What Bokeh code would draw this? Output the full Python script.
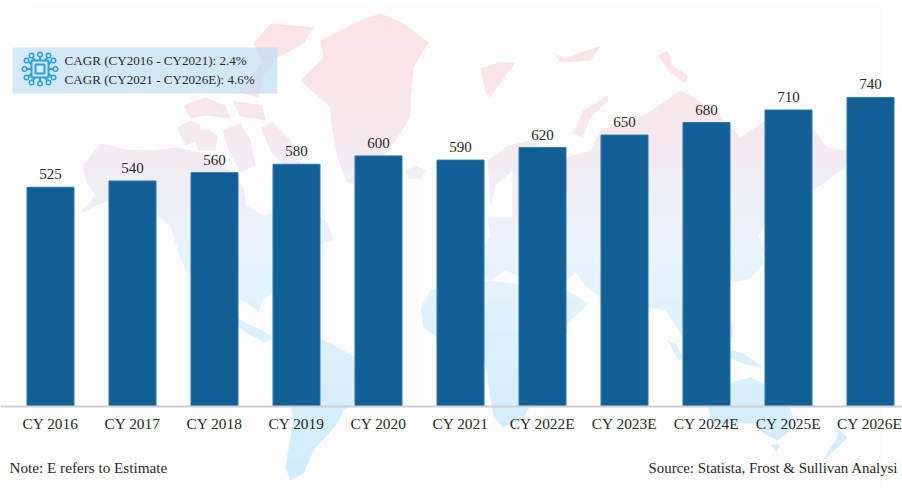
from bokeh.embed import file_html
from bokeh.resources import INLINE
from bokeh.plotting import figure
from bokeh.models import Range1d, LinearAxis, FixedTicker, ColumnDataSource, Label
from bokeh.core.properties import value

# ---- chart data ----
categories = ["CY 2016", "CY 2017", "CY 2018", "CY 2019", "CY 2020", "CY 2021",
              "CY 2022E", "CY 2023E", "CY 2024E", "CY 2025E", "CY 2026E"]
values = [525, 540, 560, 580, 600, 590, 620, 650, 680, 710, 740]
cagr_lines = ["CAGR (CY2016 - CY2021):  2.4%", "CAGR (CY2021 - CY2026E):  4.6%"]
note_text = "Note: E refers to Estimate"
source_text = "Source:  Statista, Frost & Sullivan Analysi"

SERIF = value("Liberation Serif")
W, H = 902, 488
STEP, FIRST = 82.0, 50.0    # px between bars, px centre of the first bar
BASE_Y, PX_PER_UNIT = 406.0, 0.4176

# ---- faint world map backdrop, in page pixels ----
MAP = [
    # North America
    [(82,165),(100,143),(125,149),(150,150),(175,147),(200,152),(215,160),(235,175),(243,187),(246,205),(262,215),
     (275,212),(280,195),(295,200),(310,210),(327,222),(333,240),(315,245),(295,262),(280,285),(270,295),(262,300),
     (258,312),(250,305),(238,298),(238,318),(250,325),(262,330),(272,337),(265,342),(245,332),(225,315),(205,295),
     (193,285),(180,258),(170,225),(150,210),(125,195),(100,203),(78,214),(95,195),(86,182)],
    # Arctic Canada
    [(177,127),(190,120),(200,125),(198,140),(185,145)],
    [(192,133),(205,128),(217,135),(215,150),(198,150)],
    [(222,130),(240,123),(250,140),(255,165),(240,172),(228,150)],
    [(260,127),(272,122),(290,140),(300,163),(283,165),(270,150)],
    [(183,105),(205,97),(225,105),(230,118),(205,115),(190,118)],
    [(232,100),(262,105),(265,120),(240,116)],
    [(253,43),(270,23),(313,27),(303,43),(277,57),(263,75),(258,97),(238,92),(262,62)],
    # Greenland
    [(320,40),(360,20),(380,13),(403,23),(428,42),(413,67),(410,100),(410,117),(393,143),(360,183),(347,183),
     (337,157),(330,117),(330,107),(300,80),(323,57)],
    # Iceland, Svalbard, Franz Josef, Novaya Zemlya, Severnaya Zemlya
    [(405,170),(415,165),(425,170),(420,178),(408,178)],
    [(480,68),(498,62),(515,62),(505,75),(490,97),(485,92)],
    [(553,52),(565,58),(585,50),(600,46),(590,60),(560,62)],
    [(572,133),(583,110),(607,95),(608,100),(590,117),(582,137)],
    [(657,55),(667,50),(672,65),(687,75),(685,83),(670,72)],
    # Eurasia
    [(487,160),(507,145),(530,140),(565,157),(590,150),(600,130),(647,113),(680,90),(693,97),(717,113),(740,137),
     (765,120),(810,125),(827,147),(847,150),(890,160),(890,175),(847,165),(820,185),(800,195),(785,215),(765,225),
     (758,235),(765,250),(735,275),(725,290),(700,300),(690,335),(683,337),(665,310),(647,307),(630,345),(615,340),
     (600,297),(585,285),(575,272),(560,285),(540,270),(525,278),(505,270),(490,280),(470,275),(478,255),(490,235),
     (487,217),(512,217),(512,170),(495,185),(490,205)],
    # Japan
    [(742,262),(760,250),(764,262),(750,278),(734,282),(730,278)],
    # Africa
    [(420,307),(430,290),(453,280),(483,280),(517,283),(545,295),(567,290),(588,303),(567,323),(567,333),(550,360),
     (533,400),(523,417),(503,427),(493,417),(487,377),(483,357),(477,347),(440,340),(423,327)],
    [(553,378),(560,374),(557,395),(551,394)],
    # South America
    [(320,338),(343,350),(355,357),(380,372),(375,393),(355,403),(343,410),(337,423),(313,450),(303,473),(290,480),
     (285,467),(293,417),(283,377),(293,350),(307,340)],
    # Australia, Tasmania, New Zealand, New Guinea, Indonesia, Philippines
    [(707,407),(730,382),(750,377),(763,383),(783,393),(793,417),(790,430),(777,440),(763,433),(757,423),(727,423),
     (713,423)],
    [(770,444),(780,444),(776,452)],
    [(837,428),(847,437),(837,447),(823,460),(827,452),(837,437)],
    [(720,347),(743,353),(763,367),(745,364),(725,356)],
    [(667,340),(675,343),(683,358),(678,360)],
    [(690,343),(705,340),(712,350),(698,358)],
    [(728,322),(733,325),(733,337),(728,335)],
]
STOPS = [(10,(252,226,229)), (110,(247,231,235)), (180,(240,237,244)), (260,(232,243,251)), (350,(218,240,252)), (480,(208,236,252))]


def band_colour(y):
    for (y0, c0), (y1, c1) in zip(STOPS, STOPS[1:]):
        if y <= y1:
            t = max(0.0, (y - y0) / (y1 - y0))
            return "#%02x%02x%02x" % tuple(round(a + (b - a) * t) for a, b in zip(c0, c1))
    return "#%02x%02x%02x" % STOPS[-1][1]


def clip(poly, y, keep_below):
    out = []
    inside = (lambda p: p[1] >= y) if keep_below else (lambda p: p[1] <= y)
    for i, a in enumerate(poly):
        b = poly[(i + 1) % len(poly)]
        if inside(a):
            out.append(a)
        if inside(a) != inside(b):
            t = (y - a[1]) / (b[1] - a[1])
            out.append((a[0] + t * (b[0] - a[0]), y))
    return out


xs, ys, cols = [], [], []
for shape in MAP:
    y0 = min(q[1] for q in shape)
    y1 = max(q[1] for q in shape)
    y = int(y0 // 10) * 10
    while y < y1:
        part = clip(clip(shape, y, True), y + 11, False)
        if len(part) >= 3:
            xs.append([q[0] for q in part])
            ys.append([q[1] for q in part])
            cols.append(band_colour(y + 5))
        y += 10

p = figure(
    width=W, height=H, output_backend="svg", toolbar_location=None, min_border=0,
    x_axis_type=None, y_axis_type=None, outline_line_color=None,
    background_fill_color="white", border_fill_color="white",
    x_range=Range1d(-FIRST / STEP, (W - FIRST) / STEP),
    y_range=Range1d((BASE_Y - H) / PX_PER_UNIT, BASE_Y / PX_PER_UNIT),
)
p.grid.visible = False
p.extra_x_ranges["px"] = Range1d(0, W)
p.extra_y_ranges["px"] = Range1d(H, 0)
PX = dict(x_range_name="px", y_range_name="px")

# page tint behind the map
p.quad(left=[32], right=[882], top=[5], bottom=[488], fill_color="#fcfcfc", line_color=None, **PX)
p.patches(xs, ys, fill_color=cols, line_color=None, **PX)

# CAGR box
p.quad(left=[12], right=[277], top=[47], bottom=[93], fill_color="#b8dbf3", fill_alpha=0.6, line_color=None, **PX)

# chip icon
ICON = "#2b9fdc"
p.quad(left=[31], right=[48], top=[60], bottom=[77], fill_color=None, line_color=ICON, line_width=2, **PX)
p.quad(left=[35], right=[44], top=[64], bottom=[73], fill_color="#d8ecf9", line_color=ICON, line_width=2, **PX)
tx0 = [34.5, 39.5, 44.5, 34.5, 39.5, 44.5, 31, 31, 31, 48, 48, 48]
ty0 = [60, 60, 60, 77, 77, 77, 63.5, 68.5, 73.5, 63.5, 68.5, 73.5]
tx1 = [31, 39.5, 48, 31, 39.5, 48, 26, 24, 26, 53, 55, 53]
ty1 = [55, 54, 55, 82, 83, 82, 60, 68.5, 77, 60, 68.5, 77]
p.segment(tx0, ty0, tx1, ty1, line_color=ICON, line_width=2, **PX)
p.scatter(tx1, ty1, size=4.5, marker="circle", fill_color="#d8ecf9", line_color=ICON, line_width=1.5, **PX)

# bars
src = ColumnDataSource(dict(x=list(range(len(values))), top=values, label=[str(v) for v in values]))
p.vbar(x="x", top="top", bottom=0, width=47 / STEP, source=src,
       fill_color="#115f95", line_color="#2a78aa", line_width=1)
p.text(x="x", y="top", text="label", source=src, text_font=SERIF, text_font_size="15px",
       text_color="#2a2a2a", text_align="center", text_baseline="bottom", y_offset=-8)

# axis
axis = LinearAxis(fixed_location=0, ticker=FixedTicker(ticks=list(range(len(categories)))),
                  major_label_overrides={i: c for i, c in enumerate(categories)})
axis.axis_line_color = "#d0d0d0"
axis.axis_line_width = 2
axis.major_tick_line_color = None
axis.minor_tick_line_color = None
axis.major_label_standoff = 2
axis.major_label_text_font = "Liberation Serif"
axis.major_label_text_font_size = "15.4px"
axis.major_label_text_color = "#2a2a2a"
p.add_layout(axis, "below")


def page_label(x, y, text, size):
    p.add_layout(Label(x=x, y=H - y, x_units="screen", y_units="screen", text=text,
                       text_font="Liberation Serif", text_font_size=size, text_color="#2a2a2a",
                       text_baseline="middle", text_align="left"))


page_label(64, 60, cagr_lines[0], "13.1px")
page_label(64, 79, cagr_lines[1], "13.1px")
page_label(9, 467, note_text, "15.2px")
page_label(648, 467, source_text, "14.9px")

open("out.html", "w").write(file_html(p, INLINE))
